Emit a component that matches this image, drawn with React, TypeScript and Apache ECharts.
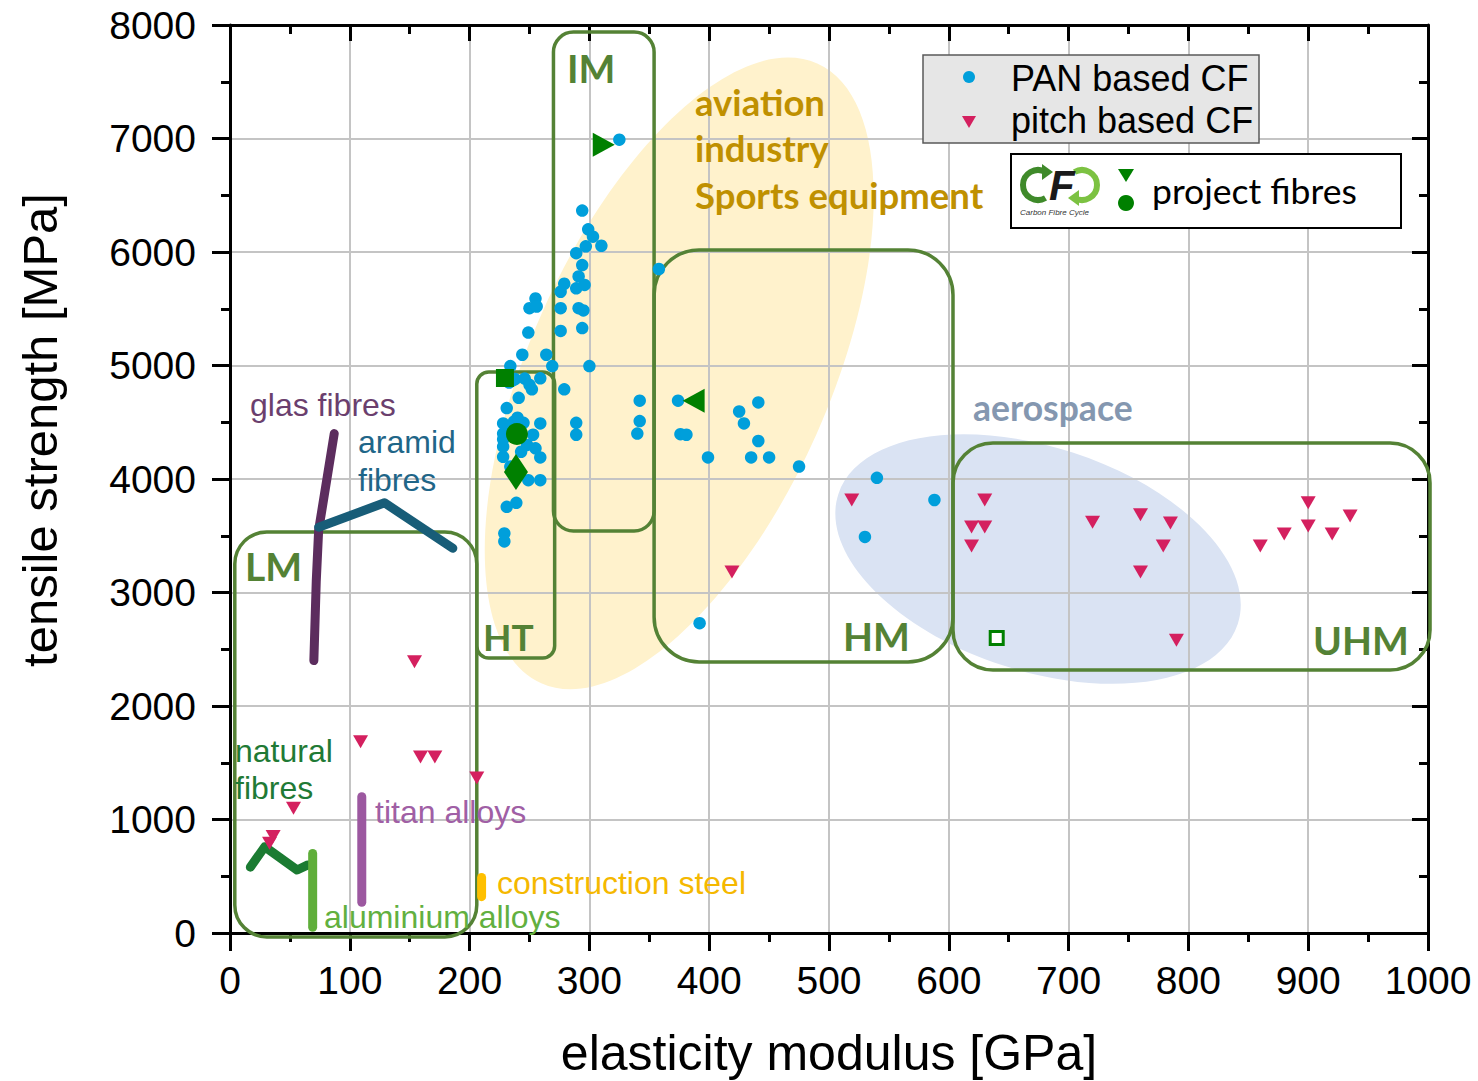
import React, { useEffect, useRef } from "react";
import * as echarts from "echarts";

// ---------------- data ----------------
const X_RANGE = [0, 1000];
const Y_RANGE = [0, 8000];

// PAN based carbon fibres [elasticity modulus GPa, tensile strength MPa]
const PAN_BASED_CF: number[][] = [
  [325, 6990], [294, 6365], [299, 6200], [303, 6135], [310, 6055], [297, 6050],
  [289, 5990], [294, 5885], [291, 5785], [289, 5680], [296, 5710], [279, 5720],
  [276, 5650], [255, 5590], [250, 5505], [256, 5520], [276, 5505], [291, 5505],
  [295, 5485], [249, 5290], [276, 5305], [294, 5330], [244, 5095], [264, 5095],
  [234, 4995], [269, 4995], [300, 4995], [358, 5850], [238, 4880], [246, 4885],
  [233, 4850], [259, 4887], [279, 4790], [241, 4715], [231, 4625], [342, 4690],
  [374, 4690], [289, 4495], [342, 4510], [289, 4390], [340, 4400], [376, 4395],
  [381, 4390], [399, 4190], [425, 4595], [441, 4675], [429, 4490], [441, 4335],
  [435, 4190], [450, 4190], [475, 4110], [228, 4490], [237, 4505], [245, 4495],
  [259, 4490], [228, 4400], [253, 4390], [228, 4285], [248, 4300], [255, 4270],
  [228, 4195], [259, 4190], [249, 3990], [259, 3990], [231, 3755], [239, 3790],
  [229, 3520], [229, 3450], [392, 2730], [540, 4010], [530, 3490], [588, 3815],
  [234, 4110], [228, 4350], [233, 4450], [243, 4240], [250, 4830], [240, 4540],
  [252, 4790], [236, 4870],
];

// pitch based carbon fibres
const PITCH_BASED_CF: number[][] = [
  [519, 3815], [630, 3815], [619, 3577], [630, 3577], [619, 3410], [720, 3620],
  [760, 3685], [785, 3612], [779, 3410], [760, 3180], [790, 2580], [860, 3410],
  [880, 3515], [900, 3790], [900, 3585], [920, 3515], [935, 3675], [419, 3180],
  [154, 2390], [109, 1685], [159, 1550], [171, 1550], [206, 1365], [53, 1100],
  [36, 850], [33, 790],
];

// project fibres (each with its own marker)
const PROJECT_FIBRES: { value: number[]; marker: string }[] = [
  { value: [312, 6945], marker: "triangleRight" },
  { value: [387, 4690], marker: "triangleLeft" },
  { value: [229.5, 4890], marker: "square" },
  { value: [239.5, 4396], marker: "circle" },
  { value: [238.7, 4062], marker: "diamond" },
  { value: [640, 2600], marker: "openSquare" },
];

// material property ranges drawn as thick lines
const GLAS_FIBRES = [[70, 2400], [72, 3100], [74, 3550], [87, 4400]];
const ARAMID_FIBRES = [[74, 3575], [129, 3790], [186, 3390]];
const NATURAL_FIBRES = [[17, 580], [29, 760], [56, 555], [65, 600]];
const ALUMINIUM_ALLOYS = [[69, 50], [69, 700]];
const TITAN_ALLOYS = [[110, 270], [110, 1200]];
const CONSTRUCTION_STEEL = [[210, 320], [210, 490]];

// modulus classes: [name, x0, y0, x1, y1]
const REGION_BOXES: [string, number, number, number, number][] = [
  ["LM", 4, -35, 206, 3533],
  ["HT", 206, 2423, 271, 4943],
  ["IM", 270, 3542, 354, 7938],
  ["HM", 354, 2388, 603.5, 6018],
  ["UHM", 603.5, 2317, 1001.7, 4317],
];

// application fields: centre [GPa, MPa]
const APPLICATION_AREAS: [string, number, number][] = [
  ["aviation", 375, 4930],
  ["aerospace", 674.5, 3295],
];

// ---------------- styles ----------------
const FONT = "'Liberation Sans', Arial, sans-serif";
const CAL = "Lato, 'Open Sans', sans-serif";
const GREEN = "#548235";
const BOX_RADIUS: Record<string, number> = { LM: 32, HT: 12, IM: 20, HM: 45, UHM: 40 };
const AREA_STYLE: Record<string, { rx: number; ry: number; rot: number; fill: string }> = {
  aviation: { rx: 150, ry: 339, rot: -24, fill: "#fff2cc" },
  aerospace: { rx: 210, ry: 112, rot: -18, fill: "#dae3f3" },
};
const MARKER_STYLE: Record<string, any> = {
  triangleRight: { symbol: "triangle", symbolRotate: -90, symbolSize: [24, 22] },
  triangleLeft: { symbol: "triangle", symbolRotate: 90, symbolSize: [24, 22] },
  square: { symbol: "rect", symbolSize: 18 },
  circle: { symbol: "circle", symbolSize: 22 },
  diamond: { symbol: "diamond", symbolSize: [24, 36] },
  openSquare: {
    symbol: "rect",
    symbolSize: 13,
    itemStyle: { color: "#ffffff", borderColor: "#008000", borderWidth: 3, opacity: 1 },
  },
};

function txt(text: string, x: number, y: number, fill: string, fontSize: number, family = FONT, weight: any = "normal", extra: any = {}) {
  const { align, italic, ...rest } = extra;
  return {
    type: "text",
    x,
    y,
    z: 50,
    silent: true,
    ...rest,
    style: {
      text,
      fill,
      fontSize,
      fontFamily: family,
      fontWeight: weight,
      fontStyle: italic ? "italic" : "normal",
      textAlign: align || "left",
      textVerticalAlign: "middle",
    },
  };
}

function buildGraphics() {
  const g: any[] = [];
  // axis names
  g.push(txt("tensile strength [MPa]", 40, 430, "#000", 49, FONT, "normal", { rotation: Math.PI / 2, align: "center" }));
  g.push(txt("elasticity modulus [GPa]", 829, 1053, "#000", 50, FONT, "normal", { align: "center" }));
  // class labels
  g.push(txt("IM", 567, 68, GREEN, 39, CAL, "bold"));
  g.push(txt("HT", 483, 636, GREEN, 37, CAL, "bold"));
  g.push(txt("HM", 843, 636, GREEN, 39, CAL, "bold"));
  g.push(txt("UHM", 1313, 640, GREEN, 39, CAL, "bold"));
  g.push(txt("LM", 245, 566, GREEN, 39, CAL, "bold"));
  // application labels
  g.push(txt("aviation", 695, 102, "#bf9000", 36.5, CAL, "bold"));
  g.push(txt("industry", 695, 148, "#bf9000", 36.5, CAL, "bold"));
  g.push(txt("Sports equipment", 695, 195, "#bf9000", 36.5, CAL, "bold"));
  g.push(txt("aerospace", 973, 407, "#8497b0", 35.5, CAL, "bold"));
  // material labels
  g.push(txt("glas fibres", 250, 405, "#6b3f6e", 32));
  g.push(txt("aramid", 358, 442, "#1f6688", 32));
  g.push(txt("fibres", 358, 480, "#1f6688", 32));
  g.push(txt("natural", 235, 751, "#1f7a35", 32));
  g.push(txt("fibres", 235, 788, "#1f7a35", 32));
  g.push(txt("titan alloys", 375, 812, "#a05fa5", 32));
  g.push(txt("construction steel", 497, 883, "#f5b800", 32));
  g.push(txt("aluminium alloys", 324, 917, "#62b03f", 32));

  // legend 1
  g.push({ type: "rect", z: 60, silent: true, shape: { x: 923, y: 55, width: 336, height: 88 }, style: { fill: "#e6e6e6", stroke: "#595959", lineWidth: 1.5 } });
  g.push({ type: "circle", z: 61, silent: true, shape: { cx: 969, cy: 77, r: 6 }, style: { fill: "#009fdb" } });
  g.push({ type: "polygon", z: 61, silent: true, shape: { points: [[962, 116], [976, 116], [969, 128]] }, style: { fill: "#d4205f" } });
  g.push(txt("PAN based CF", 1011, 78, "#000", 36, FONT, "normal", { z: 62 }));
  g.push(txt("pitch based CF", 1011, 120, "#000", 36, FONT, "normal", { z: 62 }));

  // legend 2
  g.push({ type: "rect", z: 60, silent: true, shape: { x: 1011, y: 154, width: 390, height: 74 }, style: { fill: "#ffffff", stroke: "#000", lineWidth: 2 } });
  // logo
  g.push({ type: "arc", z: 61, silent: true, shape: { cx: 1038, cy: 185, r: 15, startAngle: Math.PI / 3, endAngle: (5 * Math.PI) / 3, clockwise: true }, style: { stroke: "#3f8a2a", lineWidth: 6, fill: "none" } });
  g.push({ type: "polygon", z: 61, silent: true, shape: { points: [[1042, 164], [1053, 172], [1042, 180]] }, style: { fill: "#3f8a2a" } });
  g.push({ type: "arc", z: 61, silent: true, shape: { cx: 1082, cy: 185, r: 15, startAngle: (-2 * Math.PI) / 3, endAngle: (2 * Math.PI) / 3, clockwise: true }, style: { stroke: "#7cc242", lineWidth: 6, fill: "none" } });
  g.push({ type: "polygon", z: 61, silent: true, shape: { points: [[1079, 190], [1068, 198], [1079, 206]] }, style: { fill: "#7cc242" } });
  g.push(txt("F", 1049, 185, "#1a1a1a", 42, FONT, "bold", { z: 62, italic: true }));
  g.push(txt("Carbon Fibre Cycle", 1020, 212, "#333", 8, FONT, "normal", { z: 62, italic: true }));
  g.push({ type: "polygon", z: 61, silent: true, shape: { points: [[1118, 169], [1134, 169], [1126, 182]] }, style: { fill: "#008000" } });
  g.push({ type: "circle", z: 61, silent: true, shape: { cx: 1126, cy: 203, r: 8 }, style: { fill: "#008000" } });
  g.push(txt("project fibres", 1152, 190, "#000", 35.5, CAL, "normal", { z: 62 }));
  return g;
}

function lineSeries(name: string, data: number[][], color: string) {
  return {
    type: "line",
    name,
    data,
    symbol: "none",
    silent: true,
    clip: false,
    z: 3,
    lineStyle: { color, width: 9, cap: "round", join: "round" },
  };
}

function buildOption() {
  const axisCommon = {
    type: "value",
    axisLine: { show: true, onZero: false, lineStyle: { color: "#000", width: 3 } },
    minorTick: { show: true, splitNumber: 2, length: 9, lineStyle: { color: "#000", width: 3 } },
  };
  const plain = (v: number) => String(v);
  return {
    animation: false,
    backgroundColor: "#ffffff",
    grid: { left: 230, top: 25, width: 1198, height: 908, containLabel: false },
    xAxis: [
      {
        ...axisCommon,
        position: "bottom",
        min: X_RANGE[0],
        max: X_RANGE[1],
        interval: 100,
        axisTick: { show: true, inside: false, length: 18, lineStyle: { color: "#000", width: 3 } },
        axisLabel: { fontSize: 39, color: "#000", margin: 28, fontFamily: FONT, formatter: plain },
        splitLine: { show: true, lineStyle: { color: "#c4c4c4", width: 2 } },
      },
      {
        ...axisCommon,
        position: "top",
        min: X_RANGE[0],
        max: X_RANGE[1],
        interval: 100,
        axisTick: { show: true, inside: true, length: 16, lineStyle: { color: "#000", width: 3 } },
        axisLabel: { show: false },
        splitLine: { show: false },
      },
    ],
    yAxis: [
      {
        ...axisCommon,
        position: "left",
        min: Y_RANGE[0],
        max: Y_RANGE[1],
        interval: 1000,
        axisTick: { show: true, inside: false, length: 18, lineStyle: { color: "#000", width: 3 } },
        axisLabel: { fontSize: 39, color: "#000", margin: 34, fontFamily: FONT, formatter: plain },
        splitLine: { show: true, lineStyle: { color: "#c4c4c4", width: 2 } },
      },
      {
        ...axisCommon,
        position: "right",
        min: Y_RANGE[0],
        max: Y_RANGE[1],
        interval: 1000,
        axisTick: { show: true, inside: true, length: 16, lineStyle: { color: "#000", width: 3 } },
        axisLabel: { show: false },
        splitLine: { show: false },
      },
    ],
    graphic: { elements: buildGraphics() },
    series: [
      {
        type: "custom",
        name: "application areas",
        z: -1,
        silent: true,
        clip: false,
        data: APPLICATION_AREAS.map((a) => [a[1], a[2]]),
        renderItem: (params: any, api: any) => {
          const key = APPLICATION_AREAS[params.dataIndex][0];
          const st = AREA_STYLE[key];
          const c = api.coord([api.value(0), api.value(1)]);
          return {
            type: "ellipse",
            x: c[0],
            y: c[1],
            rotation: (st.rot * Math.PI) / 180,
            shape: { cx: 0, cy: 0, rx: st.rx, ry: st.ry },
            style: { fill: st.fill },
          };
        },
      },
      {
        type: "custom",
        name: "modulus classes",
        z: 2,
        silent: true,
        clip: false,
        data: REGION_BOXES.map((b) => [b[1], b[2], b[3], b[4]]),
        encode: { x: [0, 2], y: [1, 3] },
        renderItem: (params: any, api: any) => {
          const key = REGION_BOXES[params.dataIndex][0];
          const tl = api.coord([api.value(0), api.value(3)]);
          const br = api.coord([api.value(2), api.value(1)]);
          return {
            type: "rect",
            shape: { x: tl[0], y: tl[1], width: br[0] - tl[0], height: br[1] - tl[1], r: BOX_RADIUS[key] },
            style: { fill: "none", stroke: GREEN, lineWidth: 3.5 },
          };
        },
      },
      lineSeries("glas fibres", GLAS_FIBRES, "#5c2d5e"),
      lineSeries("aramid fibres", ARAMID_FIBRES, "#185d78"),
      lineSeries("natural fibres", NATURAL_FIBRES, "#1b7b32"),
      lineSeries("aluminium alloys", ALUMINIUM_ALLOYS, "#5fae3a"),
      lineSeries("titan alloys", TITAN_ALLOYS, "#9c58a0"),
      lineSeries("construction steel", CONSTRUCTION_STEEL, "#ffc000"),
      {
        type: "scatter",
        name: "pitch based CF",
        data: PITCH_BASED_CF,
        symbol: "triangle",
        symbolRotate: 180,
        symbolSize: [15, 13],
        itemStyle: { color: "#d4205f", opacity: 1 },
        z: 4,
        silent: true,
      },
      {
        type: "scatter",
        name: "PAN based CF",
        data: PAN_BASED_CF,
        symbol: "circle",
        symbolSize: 12.5,
        itemStyle: { color: "#009fdb", opacity: 1 },
        z: 4,
        silent: true,
      },
      {
        type: "scatter",
        name: "project fibres",
        data: PROJECT_FIBRES.map((p) => ({ value: p.value, ...MARKER_STYLE[p.marker] })),
        itemStyle: { color: "#008000", opacity: 1 },
        z: 5,
        silent: true,
      },
    ],
  };
}

export default function App() {
  const ref = useRef<HTMLDivElement>(null);
  useEffect(() => {
    if (!ref.current) return;
    const chart = echarts.init(ref.current, undefined, { renderer: "svg" });
    chart.setOption(buildOption() as any);
    return () => chart.dispose();
  }, []);
  return (
    <div
      ref={ref}
      style={{ position: "absolute", left: 0, top: 0, width: 1478, height: 1081, background: "#fff" }}
    />
  );
}
